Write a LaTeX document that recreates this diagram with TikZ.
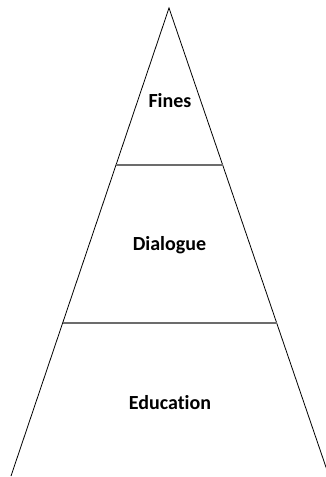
\documentclass[tikz,border=0pt]{standalone}
\usepackage{fontspec}
\setmainfont[Ligatures=NoCommon]{Carlito}
\usetikzlibrary{calc}
\definecolor{dividergray}{RGB}{108,108,108}
\tikzset{
  side/.style={line width=0.8pt, black},
  divider/.style={line width=2.4pt, dividergray},
  level/.style={font=\fontsize{20}{24}\selectfont\bfseries},
}
\begin{document}
\begin{tikzpicture}[x=1pt,y=-1pt]
  \useasboundingbox (0,0) rectangle (325,477);
  % outline of the pyramid
  \coordinate (apex) at (169,8);
  \coordinate (left) at (11,476);
  \coordinate (right) at (329,476);
  \draw[side] (left) -- (apex) -- (right);
  % dividers between the levels
  \coordinate (upperL) at ($(apex)!0.3355!(left)$);
  \coordinate (upperR) at ($(apex)!0.3355!(right)$);
  \coordinate (lowerL) at ($(apex)!0.673!(left)$);
  \coordinate (lowerR) at ($(apex)!0.673!(right)$);
  \draw[divider] (upperL) -- (upperR);
  \draw[divider] (lowerL) -- (lowerR);
  % level labels
  \node[level] (fines) at (170,100.5) {Fines};
  \node[level] (dialogue) at (169.5,245.5) {Dialogue};
  \node[level] (education) at (170,403) {Education};
\end{tikzpicture}
\end{document}
